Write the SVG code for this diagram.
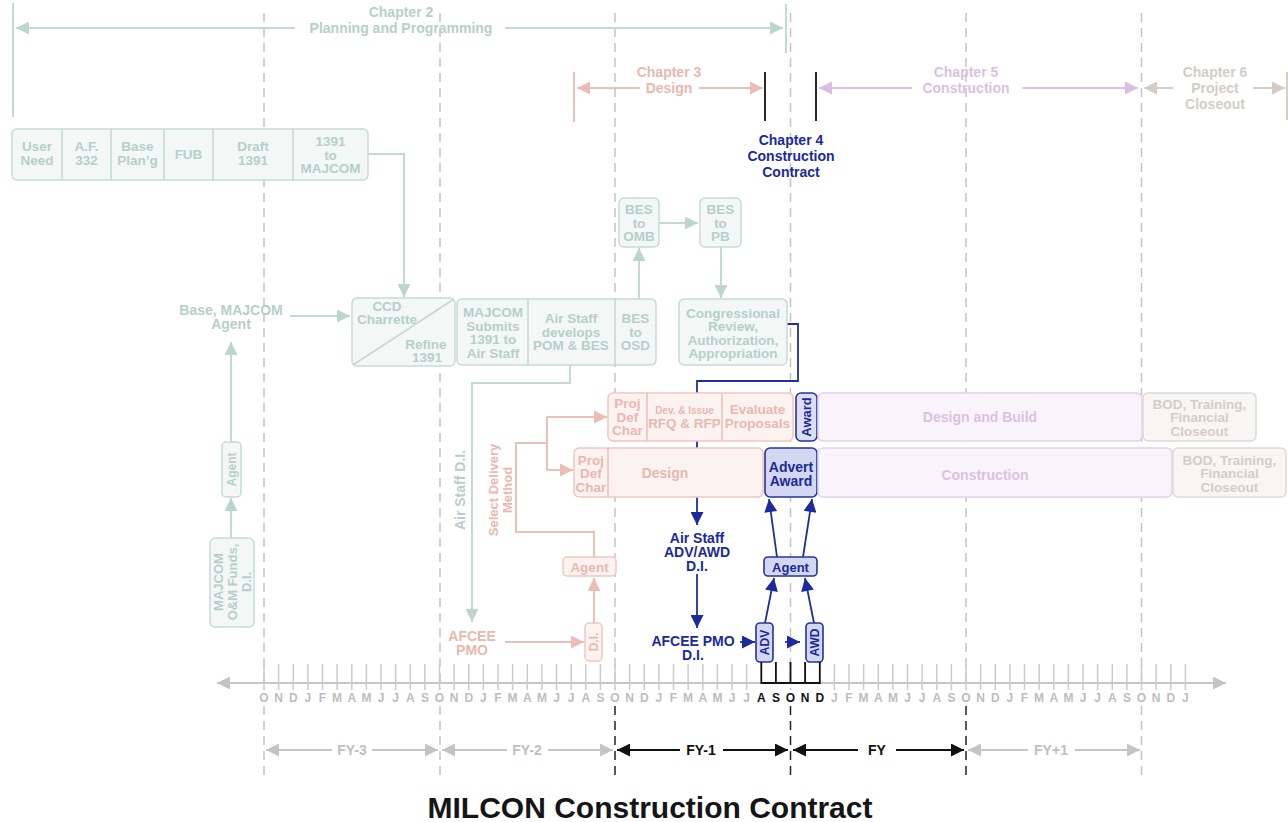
<svg xmlns="http://www.w3.org/2000/svg" width="1288" height="822" viewBox="0 0 1288 822">
<defs>
<style>
text{font-family:"Liberation Sans",Arial,sans-serif;font-weight:bold;text-anchor:middle;}
.t{fill:#b6cfca;font-size:13.5px;}
.p{fill:#e9b8ae;font-size:13.5px;}
.u{fill:#dac1e4;font-size:14px;}
.g{fill:#d4cdc7;font-size:13.5px;}
.b{fill:#1b2a9c;font-size:14px;}
.bt{fill:#1b2a9c;font-size:13px;}
.ml{fill:#bdbdbd;font-size:12px;}
.mk{fill:#111;font-size:12px;}
.fy{fill:#c0c0c0;font-size:14px;}
.fyk{fill:#111;font-size:14px;}
.bxT{fill:#f3f8f7;stroke:#c6dbd7;stroke-width:1.5;}
.bxP{fill:#fcf3f1;stroke:#eec7c0;stroke-width:1.5;}
.bxU{fill:#f9f4fb;stroke:#e3d1eb;stroke-width:1.5;}
.bxG{fill:#f8f6f4;stroke:#e0d9d3;stroke-width:1.5;}
.bxB{fill:#d3d8f0;stroke:#23339f;stroke-width:1.6;}
.lT{fill:none;stroke:#c3d9d5;stroke-width:2;}
.lP{fill:none;stroke:#ebc0b8;stroke-width:2;}
.lU{fill:none;stroke:#dcc3e6;stroke-width:2;}
.lG{fill:none;stroke:#d6cfc9;stroke-width:2;}
.lB{fill:none;stroke:#1f2f9e;stroke-width:1.8;}
.lK{fill:none;stroke:#111;stroke-width:1.8;}
.lA{fill:none;stroke:#c6c6c6;stroke-width:2;}
.dg{fill:none;stroke:#c4c4c4;stroke-width:1.5;stroke-dasharray:9 6;}
.dk{fill:none;stroke:#222;stroke-width:1.5;stroke-dasharray:9 6;}
</style>
<marker id="aT" viewBox="0 0 10 10" refX="10" refY="5" markerWidth="15" markerHeight="13" markerUnits="userSpaceOnUse" orient="auto-start-reverse"><path d="M0,0L10,5L0,10z" fill="#bcd5d1"/></marker>
<marker id="aP" viewBox="0 0 10 10" refX="10" refY="5" markerWidth="15" markerHeight="13" markerUnits="userSpaceOnUse" orient="auto-start-reverse"><path d="M0,0L10,5L0,10z" fill="#ebbdb4"/></marker>
<marker id="aU" viewBox="0 0 10 10" refX="10" refY="5" markerWidth="15" markerHeight="13" markerUnits="userSpaceOnUse" orient="auto-start-reverse"><path d="M0,0L10,5L0,10z" fill="#d9bde5"/></marker>
<marker id="aG" viewBox="0 0 10 10" refX="10" refY="5" markerWidth="15" markerHeight="13" markerUnits="userSpaceOnUse" orient="auto-start-reverse"><path d="M0,0L10,5L0,10z" fill="#d3cbc4"/></marker>
<marker id="aB" viewBox="0 0 10 10" refX="10" refY="5" markerWidth="15" markerHeight="13" markerUnits="userSpaceOnUse" orient="auto-start-reverse"><path d="M0,0L10,5L0,10z" fill="#1b2a9c"/></marker>
<marker id="aK" viewBox="0 0 10 10" refX="10" refY="5" markerWidth="15" markerHeight="13" markerUnits="userSpaceOnUse" orient="auto-start-reverse"><path d="M0,0L10,5L0,10z" fill="#111"/></marker>
<marker id="aA" viewBox="0 0 10 10" refX="10" refY="5" markerWidth="15" markerHeight="13" markerUnits="userSpaceOnUse" orient="auto-start-reverse"><path d="M0,0L10,5L0,10z" fill="#c4c4c4"/></marker>
</defs>
<rect width="1288" height="822" fill="#ffffff"/>

<g id="year-grid">
<path class="dg" d="M264,13V690M440,13V690M615,13V690M790.5,13V690M966,13V690M1141.5,13V690"/>
<path class="dg" d="M264,706V778M440,706V778M1141.5,706V778"/>
<path class="dk" d="M615,706V778M790.5,706V778M966,706V778"/>
</g>

<g id="chapter-headers">
<path class="lT" d="M13,3V117M786,4V53"/>
<path class="lT" d="M16,28H295" marker-start="url(#aT)"/>
<path class="lT" d="M505,28H783" marker-end="url(#aT)"/>
<text class="t" style="font-size:14px" x="401" y="17">Chapter 2</text>
<text class="t" style="font-size:14px" x="401" y="33">Planning and Programming</text>
<path class="lP" d="M574,72V122"/>
<path class="lP" d="M577,88H640" marker-start="url(#aP)"/>
<path class="lP" d="M699,88H763" marker-end="url(#aP)"/>
<text class="p" style="font-size:14px" x="669" y="77">Chapter 3</text>
<text class="p" style="font-size:14px" x="669" y="93">Design</text>
<path class="lK" d="M765,72V121M816,72V121"/>
<path class="lU" d="M819,88H912" marker-start="url(#aU)"/>
<path class="lU" d="M1022,88H1138" marker-end="url(#aU)"/>
<text class="u" x="966" y="77">Chapter 5</text>
<text class="u" x="966" y="93">Construction</text>
<path class="lG" d="M1144,88H1173" marker-start="url(#aG)"/>
<path class="lG" d="M1253,88H1285" marker-end="url(#aG)"/>
<path class="lG" d="M1287,72V120"/>
<text class="g" style="font-size:14px" x="1215" y="77">Chapter 6</text>
<text class="g" style="font-size:14px" x="1215" y="93">Project</text>
<text class="g" style="font-size:14px" x="1215" y="109">Closeout</text>
<text class="b" x="791" y="145">Chapter 4</text>
<text class="b" x="791" y="161">Construction</text>
<text class="b" x="791" y="177">Contract</text>
</g>

<g id="connectors">
<path class="lT" d="M368,154H404V297" marker-end="url(#aT)"/>
<path class="lT" d="M290,316H350" marker-end="url(#aT)"/>
<path class="lT" d="M231,442V342" marker-end="url(#aT)"/>
<path class="lT" d="M231,538V498" marker-end="url(#aT)"/>
<path class="lT" d="M639,299V248" marker-end="url(#aT)"/>
<path class="lT" d="M659,223H698" marker-end="url(#aT)"/>
<path class="lT" d="M721,247V298" marker-end="url(#aT)"/>
<path class="lT" d="M570,365V383H472V622" marker-end="url(#aT)"/>
<path class="lP" d="M505,642H584" marker-end="url(#aP)"/>
<path class="lP" d="M594,623V578" marker-end="url(#aP)"/>
<path class="lP" d="M594,557V532H516V443H547M547,417V470"/>
<path class="lP" d="M547,417H607" marker-end="url(#aP)"/>
<path class="lP" d="M547,470H573" marker-end="url(#aP)"/>
<path class="lB" d="M787,324H798V381H697V525" marker-end="url(#aB)"/>
<path class="lB" d="M697,574V628" marker-end="url(#aB)"/>
<path class="lB" d="M740,642H755" marker-end="url(#aB)"/>
<path class="lB" d="M785,642H800" marker-end="url(#aB)"/>
<path class="lB" d="M765,623L774,578" marker-end="url(#aB)"/>
<path class="lB" d="M814,623L805,578" marker-end="url(#aB)"/>
<path class="lB" d="M777,557L769,499" marker-end="url(#aB)"/>
<path class="lB" d="M803,557L812,499" marker-end="url(#aB)"/>
</g>

<g id="n-planning-row">
<rect class="bxT" x="12" y="129" width="356" height="51" rx="5"/>
<path class="lT" style="stroke-width:1.5" d="M62,129V180M111,129V180M164,129V180M213,129V180M293,129V180"/>
<text class="t" x="37" y="151">User</text><text class="t" x="37" y="165">Need</text>
<text class="t" x="86.5" y="151">A.F.</text><text class="t" x="86.5" y="165">332</text>
<text class="t" x="137.5" y="151">Base</text><text class="t" x="137.5" y="165">Plan’g</text>
<text class="t" x="188.5" y="159">FUB</text>
<text class="t" x="253" y="151">Draft</text><text class="t" x="253" y="165">1391</text>
<text class="t" x="330.5" y="146">1391</text><text class="t" x="330.5" y="159.5">to</text><text class="t" x="330.5" y="173">MAJCOM</text>
</g>

<g id="n-base-majcom">
<text class="t" style="font-size:14px" x="231" y="315">Base, MAJCOM</text>
<text class="t" style="font-size:14px" x="231" y="329">Agent</text>
</g>

<g id="n-agent-teal">
<rect class="bxT" x="222" y="442" width="19" height="55" rx="4"/>
<text class="t" style="font-size:12px" transform="translate(231.5,469.5) rotate(-90)" y="4.5">Agent</text>
</g>

<g id="n-majcom-om">
<rect class="bxT" x="210" y="538" width="44" height="89" rx="5"/>
<g transform="translate(232,582) rotate(-90)">
<text class="t" style="font-size:13px" y="-9">MAJCOM</text>
<text class="t" style="font-size:13px" y="5">O&amp;M Funds,</text>
<text class="t" style="font-size:13px" y="19">D.I.</text>
</g>
</g>

<g id="n-ccd">
<rect class="bxT" x="352" y="298" width="103" height="68" rx="5"/>
<path class="lT" style="stroke-width:1.5" d="M353,365L454,299"/>
<text class="t" x="387" y="311">CCD</text>
<text class="t" x="387" y="323.5">Charrette</text>
<text class="t" x="426" y="349">Refine</text>
<text class="t" x="427" y="362">1391</text>
</g>

<g id="n-majcom-submits">
<rect class="bxT" x="457" y="299" width="199" height="66" rx="5"/>
<path class="lT" style="stroke-width:1.5" d="M528,299V365M615,299V365"/>
<text class="t" x="493" y="317">MAJCOM</text><text class="t" x="493" y="330.5">Submits</text><text class="t" x="493" y="344">1391 to</text><text class="t" x="493" y="357.5">Air Staff</text>
<text class="t" x="571" y="323">Air Staff</text><text class="t" x="571" y="336.5">develops</text><text class="t" x="571" y="350">POM &amp; BES</text>
<text class="t" x="635.5" y="323">BES</text><text class="t" x="635.5" y="336.5">to</text><text class="t" x="635.5" y="350">OSD</text>
</g>

<g id="n-bes-omb">
<rect class="bxT" x="619" y="198" width="40" height="49" rx="5"/>
<text class="t" x="639" y="214">BES</text><text class="t" x="639" y="227.5">to</text><text class="t" x="639" y="241">OMB</text>
</g>
<g id="n-bes-pb">
<rect class="bxT" x="700" y="198" width="41" height="49" rx="5"/>
<text class="t" x="720.5" y="214">BES</text><text class="t" x="720.5" y="227.5">to</text><text class="t" x="720.5" y="241">PB</text>
</g>
<g id="n-congress">
<rect class="bxT" x="679" y="299" width="108" height="66" rx="5"/>
<text class="t" x="733" y="317.5">Congressional</text><text class="t" x="733" y="331">Review,</text><text class="t" x="733" y="344.5">Authorization,</text><text class="t" x="733" y="358">Appropriation</text>
</g>

<g id="n-air-staff-di">
<text class="t" style="font-size:14px" transform="translate(465,490) rotate(-90)">Air Staff D.I.</text>
</g>
<g id="n-select-delivery">
<g transform="translate(500,490) rotate(-90)">
<text class="p" style="font-size:13px" y="-2">Select Delivery</text>
<text class="p" style="font-size:13px" y="12">Method</text>
</g>
</g>

<g id="n-afcee-pink">
<text class="p" style="font-size:14px" x="472" y="641">AFCEE</text>
<text class="p" style="font-size:14px" x="472" y="655">PMO</text>
</g>
<g id="n-di-pink">
<rect class="bxP" x="585" y="623" width="17" height="38" rx="4"/>
<text class="p" style="font-size:12px" transform="translate(593.5,642) rotate(-90)" y="4.5">D.I.</text>
</g>
<g id="n-agent-pink">
<rect class="bxP" x="563" y="557" width="53" height="19" rx="4"/>
<text class="p" x="589.5" y="571.5">Agent</text>
</g>

<g id="n-design-build-row">
<rect class="bxP" x="608" y="393" width="185" height="48" rx="5"/>
<path class="lP" style="stroke-width:1.5" d="M647,393V441M722,393V441"/>
<text class="p" x="627.5" y="408">Proj</text><text class="p" x="627.5" y="421.5">Def</text><text class="p" x="627.5" y="435">Char</text>
<text class="p" style="font-size:10px" x="684.5" y="414">Dev. &amp; Issue</text>
<text class="p" x="684.5" y="428">RFQ &amp; RFP</text>
<text class="p" x="757.5" y="414">Evaluate</text><text class="p" x="757.5" y="428">Proposals</text>
</g>
<g id="n-award">
<rect class="bxB" x="796" y="393" width="21" height="48" rx="5" style="fill:#dcdff2"/>
<text class="bt" transform="translate(806.5,417) rotate(-90)" y="4.5">Award</text>
</g>
<g id="n-design-and-build">
<rect class="bxU" x="818" y="393" width="324" height="48" rx="5"/>
<text class="u" x="980" y="422">Design and Build</text>
</g>
<g id="n-bod-1">
<rect class="bxG" x="1143" y="393" width="113" height="48" rx="5"/>
<text class="g" x="1199.5" y="408.5">BOD, Training,</text><text class="g" x="1199.5" y="422">Financial</text><text class="g" x="1199.5" y="435.5">Closeout</text>
</g>

<g id="n-design-bid-build-row">
<rect class="bxP" x="574" y="448" width="189" height="49" rx="5"/>
<path class="lP" style="stroke-width:1.5" d="M608,448V497"/>
<text class="p" x="591" y="464.5">Proj</text><text class="p" x="591" y="478">Def</text><text class="p" x="591" y="491.5">Char</text>
<text class="p" style="font-size:14px" x="665" y="478">Design</text>
</g>
<g id="n-advert-award">
<rect class="bxB" x="765" y="448" width="52" height="49" rx="5"/>
<text class="b" x="791" y="472">Advert</text>
<text class="b" x="791" y="486">Award</text>
</g>
<g id="n-construction">
<rect class="bxU" x="818" y="448" width="354" height="49" rx="5"/>
<text class="u" x="985" y="480">Construction</text>
</g>
<g id="n-bod-2">
<rect class="bxG" x="1173" y="448" width="113" height="49" rx="5"/>
<text class="g" x="1229.5" y="464.5">BOD, Training,</text><text class="g" x="1229.5" y="478">Financial</text><text class="g" x="1229.5" y="491.5">Closeout</text>
</g>

<g id="n-air-staff-adv">
<text class="b" x="697" y="543">Air Staff</text>
<text class="b" x="697" y="557">ADV/AWD</text>
<text class="b" x="697" y="571">D.I.</text>
</g>
<g id="n-afcee-blue">
<text class="b" x="693" y="646">AFCEE PMO</text>
<text class="b" x="693" y="660">D.I.</text>
</g>
<g id="n-agent-blue">
<rect class="bxB" x="764" y="557" width="53" height="19" rx="4"/>
<text class="bt" x="790.5" y="571.5">Agent</text>
</g>
<g id="n-adv">
<rect class="bxB" x="756" y="623" width="17" height="39" rx="4"/>
<text class="bt" style="font-size:12px" transform="translate(764.5,642.5) rotate(-90)" y="4.5">ADV</text>
</g>
<g id="n-awd">
<rect class="bxB" x="806" y="623" width="17" height="39" rx="4"/>
<text class="bt" style="font-size:12px" transform="translate(814.5,642.5) rotate(-90)" y="4.5">AWD</text>
</g>

<g id="timeline">
<path class="lA" d="M217,683H1226" marker-start="url(#aA)" marker-end="url(#aA)"/>
<path fill="none" stroke="#cbcbcb" stroke-width="1.5" d="M264,664V690M278.6,664V690M293.3,664V690M307.9,664V690M322.5,664V690M337.1,664V690M351.8,664V690M366.4,664V690M381,664V690M395.6,664V690M410.3,664V690M424.9,664V690M439.5,664V690M454.1,664V690M468.8,664V690M483.4,664V690M498,664V690M512.6,664V690M527.3,664V690M541.9,664V690M556.5,664V690M571.1,664V690M585.8,664V690M600.4,664V690M615,664V690M629.6,664V690M644.3,664V690M658.9,664V690M673.5,664V690M688.1,664V690M702.8,664V690M717.4,664V690M732,664V690M746.6,664V690M834.4,664V690M849,664V690M863.6,664V690M878.3,664V690M892.9,664V690M907.5,664V690M922.1,664V690M936.8,664V690M951.4,664V690M966,664V690M980.6,664V690M995.3,664V690M1009.9,664V690M1024.5,664V690M1039.1,664V690M1053.8,664V690M1068.4,664V690M1083,664V690M1097.6,664V690M1112.3,664V690M1126.9,664V690M1141.5,664V690M1156.1,664V690M1170.8,664V690M1185.4,664V690"/>
<path fill="none" stroke="#111" stroke-width="1.8" d="M761.3,662V684M775.9,662V684M790.5,662V684M805.1,662V684M819.8,662V684M761.3,683H819.8"/>
<text class="ml" x="264 278.6 293.3 307.9 322.5 337.1 351.8 366.4 381 395.6 410.3 424.9 439.5 454.1 468.8 483.4 498 512.6 527.3 541.9 556.5 571.1 585.8 600.4 615 629.6 644.3 658.9 673.5 688.1 702.8 717.4 732 746.6" y="702">ONDJFMAMJJASONDJFMAMJJASONDJFMAMJJ</text>
<text class="mk" x="761.3 775.9 790.5 805.1 819.8" y="702">ASOND</text>
<text class="ml" x="834.4 849 863.6 878.3 892.9 907.5 922.1 936.8 951.4 966 980.6 995.3 1009.9 1024.5 1039.1 1053.8 1068.4 1083 1097.6 1112.3 1126.9 1141.5 1156.1 1170.8 1185.4" y="702">JFMAMJJASONDJFMAMJJASONDJ</text>
</g>

<g id="fiscal-years">
<path class="lA" d="M266,750H332" marker-start="url(#aA)"/><path class="lA" d="M372,750H438" marker-end="url(#aA)"/>
<text class="fy" x="352" y="755">FY-3</text>
<path class="lA" d="M442,750H507" marker-start="url(#aA)"/><path class="lA" d="M548,750H613" marker-end="url(#aA)"/>
<text class="fy" x="527" y="755">FY-2</text>
<path class="lK" d="M617,750H680" marker-start="url(#aK)"/><path class="lK" d="M723,750H788" marker-end="url(#aK)"/>
<text class="fyk" x="701" y="755">FY-1</text>
<path class="lK" d="M793,750H858" marker-start="url(#aK)"/><path class="lK" d="M896,750H964" marker-end="url(#aK)"/>
<text class="fyk" x="877" y="755">FY</text>
<path class="lA" d="M968,750H1028" marker-start="url(#aA)"/><path class="lA" d="M1075,750H1140" marker-end="url(#aA)"/>
<text class="fy" x="1051" y="755">FY+1</text>
</g>

<text x="650" y="818" style="font-size:30px;fill:#151515">MILCON Construction Contract</text>
</svg>
